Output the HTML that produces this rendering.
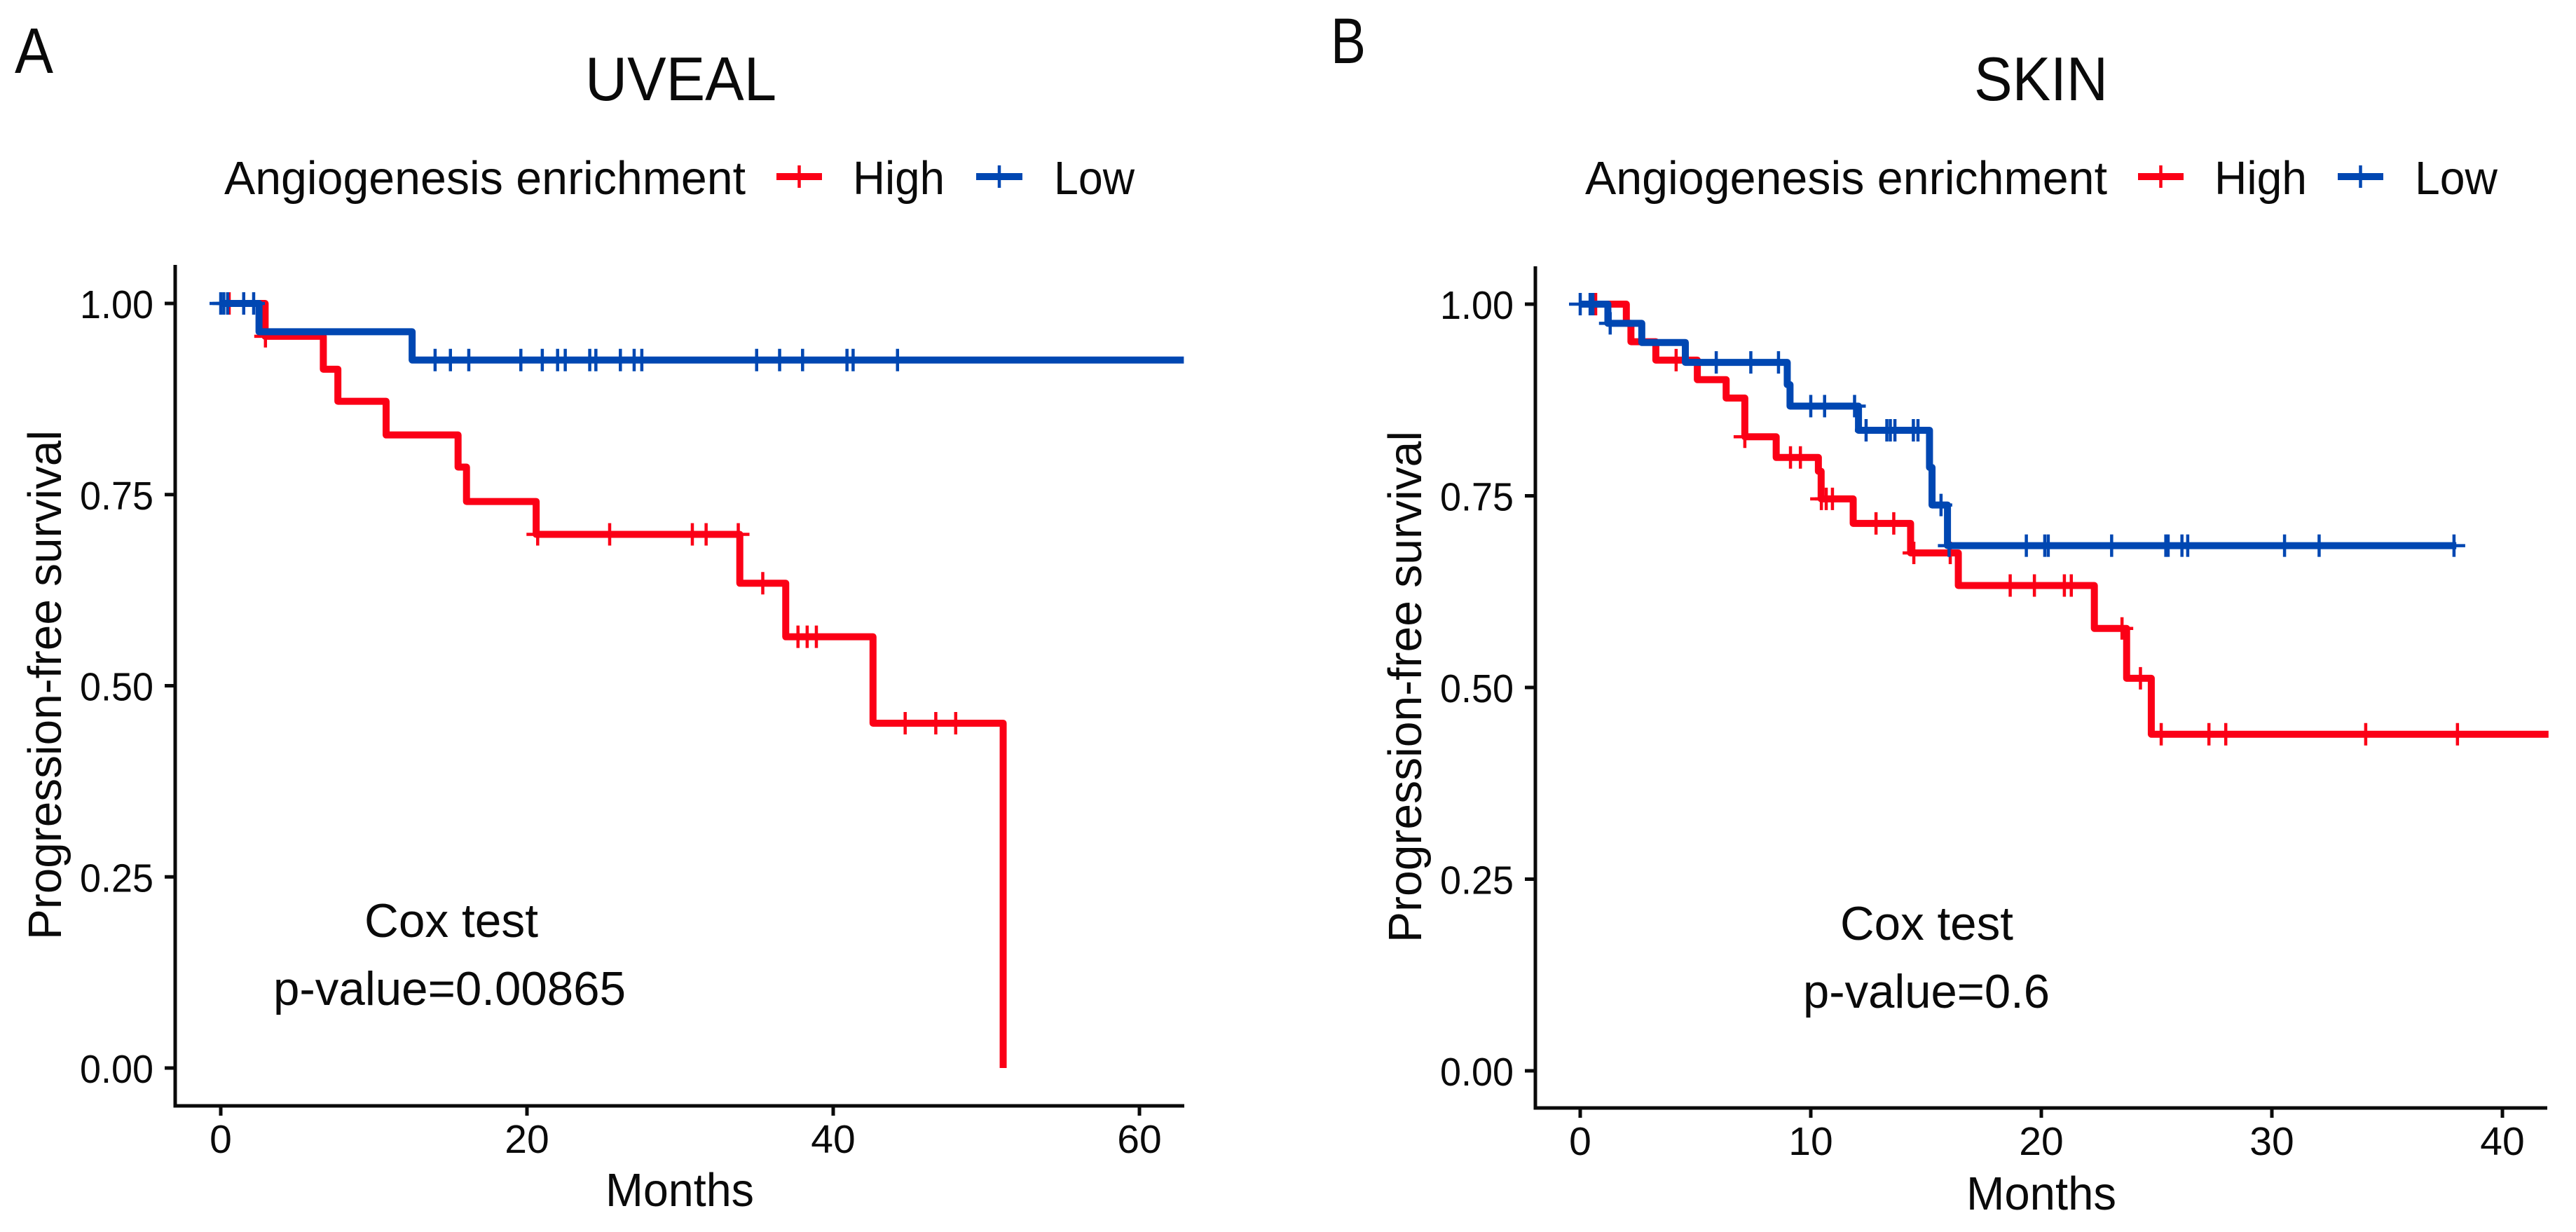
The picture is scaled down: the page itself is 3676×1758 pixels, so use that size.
<!DOCTYPE html>
<html>
<head>
<meta charset="utf-8">
<title>UVEAL and SKIN progression-free survival</title>
<style>
html,body{margin:0;padding:0;background:#fff;width:3676px;height:1758px;overflow:hidden}
svg{display:block}
text{font-family:"Liberation Sans",Arial,sans-serif;fill:#0a0a0a}
</style>
</head>
<body>
<svg id="fig" xmlns="http://www.w3.org/2000/svg" width="3676" height="1758" viewBox="0 0 3676 1758">
  <rect width="3676" height="1758" fill="#fff"/>

  <text x="21" y="104" font-size="92" textLength="55" lengthAdjust="spacingAndGlyphs">A</text>
  <text x="1899" y="90" font-size="92" textLength="50" lengthAdjust="spacingAndGlyphs">B</text>

  <g id="panelA">
    <text x="835" y="143" font-size="88" textLength="273" lengthAdjust="spacingAndGlyphs">UVEAL</text>
    <text x="320" y="277" font-size="67" textLength="744" lengthAdjust="spacingAndGlyphs">Angiogenesis enrichment</text>
    <text x="1217" y="277" font-size="67" textLength="131" lengthAdjust="spacingAndGlyphs">High</text>
    <text x="1504" y="277" font-size="67" textLength="115" lengthAdjust="spacingAndGlyphs">Low</text>
    <text x="864" y="1721" font-size="67" textLength="212" lengthAdjust="spacingAndGlyphs">Months</text>
    <text transform="translate(87 1341) rotate(-90)" font-size="67" textLength="727" lengthAdjust="spacingAndGlyphs">Progression-free survival</text>
    <text x="520" y="1337" font-size="68" textLength="248" lengthAdjust="spacingAndGlyphs">Cox test</text>
    <text x="390" y="1434" font-size="68" textLength="503" lengthAdjust="spacingAndGlyphs">p-value=0.00865</text>
  </g>

  <g id="panelB">
    <text x="2817" y="143" font-size="88" textLength="191" lengthAdjust="spacingAndGlyphs">SKIN</text>
    <text x="2262" y="277" font-size="67" textLength="745" lengthAdjust="spacingAndGlyphs">Angiogenesis enrichment</text>
    <text x="3160" y="277" font-size="67" textLength="132" lengthAdjust="spacingAndGlyphs">High</text>
    <text x="3446" y="277" font-size="67" textLength="118" lengthAdjust="spacingAndGlyphs">Low</text>
    <text x="2806" y="1726" font-size="67" textLength="214" lengthAdjust="spacingAndGlyphs">Months</text>
    <text transform="translate(2028 1345) rotate(-90)" font-size="67" textLength="730" lengthAdjust="spacingAndGlyphs">Progression-free survival</text>
    <text x="2626" y="1341" font-size="68" textLength="247" lengthAdjust="spacingAndGlyphs">Cox test</text>
    <text x="2573" y="1438" font-size="68" textLength="352" lengthAdjust="spacingAndGlyphs">p-value=0.6</text>
  </g>
</svg>
<script>
const survivalTicks = [0, 0.25, 0.5, 0.75, 1];
const survivalTickLabels = ['0.00', '0.25', '0.50', '0.75', '1.00'];

const uvealMonthTicks = [0, 20, 40, 60];
const uvealHighTimes = [0, 2.9, 6.7, 7.65, 10.8, 15.5, 16.05, 20.6, 33.9, 36.9, 42.6, 51.1];
const uvealHighSurvival = [1, 0.957, 0.914, 0.872, 0.828, 0.786, 0.741, 0.698, 0.634, 0.564, 0.451, 0];
const uvealHighCensorTimes = [0.55, 2.92, 20.7, 25.4, 30.8, 31.7, 33.8, 35.4, 37.7, 38.3, 38.9, 44.7, 46.7, 48.0];
const uvealLowTimes = [0, 2.5, 12.5, 62.9];
const uvealLowSurvival = [1, 0.963, 0.926, 0.926];
const uvealLowCensorTimes = [0, 0.2, 0.45, 1.5, 2.15, 14.0, 15.0, 16.2, 19.6, 21.0, 22.0, 22.5, 24.1, 24.5, 26.1, 27.0, 27.5, 35.0, 36.5, 38.0, 40.9, 41.3, 44.2];

const skinMonthTicks = [0, 10, 20, 30, 40];
const skinHighTimes = [0, 2.0, 2.2, 3.28, 5.08, 6.33, 7.14, 8.5, 10.33, 10.45, 11.84, 14.33, 16.4, 22.3, 23.7, 24.77, 42];
const skinHighSurvival = [1, 0.975, 0.951, 0.927, 0.9015, 0.8775, 0.827, 0.8, 0.782, 0.746, 0.714, 0.6755, 0.633, 0.577, 0.512, 0.439, 0.439];
const skinHighCensorTimes = [0.55, 0.67, 4.16, 7.14, 9.12, 9.55, 10.46, 10.67, 10.94, 12.83, 13.6, 14.47, 16.05, 18.65, 19.7, 21.0, 21.3, 23.5, 24.3, 25.2, 27.27, 28.0, 34.07, 38.05];
const skinLowTimes = [0, 1.2, 2.67, 4.56, 8.98, 9.1, 12.07, 15.15, 15.26, 15.93, 38.0];
const skinLowSurvival = [1, 0.975, 0.95, 0.924, 0.895, 0.867, 0.8355, 0.787, 0.738, 0.685, 0.685];
const skinLowCensorTimes = [0, 0.43, 0.55, 1.3, 5.9, 7.4, 8.6, 10.0, 10.6, 11.9, 12.4, 13.3, 13.45, 13.65, 14.45, 14.65, 15.65, 16.0, 19.35, 20.15, 20.3, 23.05, 25.4, 25.5, 26.1, 26.35, 30.55, 32.05, 37.9];

const HIGH_COLOR = '#fb0016';
const LOW_COLOR = '#0047b2';
const SVG_NS = 'http://www.w3.org/2000/svg';

function xUveal(t) { return 315 + t * 21.85; }
function yUveal(s) { return 1524 - s * 1091; }
function xSkin(t) { return 2255 + t * 32.9; }
function ySkin(s) { return 1528 - s * 1094; }

function make(parent, tag, attrs) {
  const el = document.createElementNS(SVG_NS, tag);
  for (const k in attrs) el.setAttribute(k, attrs[k]);
  parent.appendChild(el);
  return el;
}

function survivalAt(times, values, t) {
  let s = values[0];
  for (let i = 0; i < times.length; i++) { if (times[i] <= t) s = values[i]; }
  return s;
}

function drawAxes(parent, xf, yf, x0, x1, yTop, yBottom, monthTicks) {
  const yAxis = make(parent, 'line', {x1: x0, x2: x0, y1: yTop, y2: yBottom + 2.5, stroke: '#0a0a0a', 'stroke-width': 5});
  
  
  const xAxis = make(parent, 'line', {x1: x0 - 2.5, x2: x1, y1: yBottom, y2: yBottom, stroke: '#0a0a0a', 'stroke-width': 5});
  
  
  survivalTicks.forEach(function (v, i) {
    const tick = make(parent, 'line', {x1: x0 - 15, x2: x0, y1: yf(v), y2: yf(v), stroke: '#0a0a0a', 'stroke-width': 5});
    
    
    const label = make(parent, 'text', {x: x0 - 31, y: yf(v) + 21, 'font-size': 57, 'text-anchor': 'end', textLength: 105, lengthAdjust: 'spacingAndGlyphs'});
    
    
    label.textContent = survivalTickLabels[i];
  });
  monthTicks.forEach(function (m) {
    const tick = make(parent, 'line', {x1: xf(m), x2: xf(m), y1: yBottom, y2: yBottom + 14, stroke: '#0a0a0a', 'stroke-width': 5});
    
    
    const label = make(parent, 'text', {x: xf(m), y: yBottom + 67, 'font-size': 57, 'text-anchor': 'middle'});
    
    
    label.textContent = String(m);
  });
}

function drawSeries(parent, name, color, times, values, censors, xf, yf, plusSize) {
  const g = make(parent, 'g', {});
  
  
  let d = 'M' + xf(times[0]) + ' ' + yf(values[0]);
  for (let i = 1; i < times.length; i++) {
    d += 'H' + xf(times[i]) + 'V' + yf(values[i]);
  }
  const line = make(g, 'path', {d: d, fill: 'none', stroke: color, 'stroke-width': 10, 'stroke-linejoin': 'round'});
  
  
  censors.forEach(function (t) {
    const cx = xf(t);
    const cy = yf(survivalAt(times, values, t));
    const mark = make(g, 'path', {
      d: 'M' + (cx - plusSize) + ' ' + cy + 'H' + (cx + plusSize) + 'M' + cx + ' ' + (cy - plusSize) + 'V' + (cy + plusSize),
      fill: 'none', stroke: color, 'stroke-width': 4.5
    });
    
    
  });
}

function drawLegendKey(parent, name, color, x0, x1) {
  const key = make(parent, 'g', {});
  
  
  make(key, 'line', {x1: x0, x2: x1, y1: 252, y2: 252, stroke: color, 'stroke-width': 10});
  make(key, 'line', {x1: (x0 + x1) / 2, x2: (x0 + x1) / 2, y1: 236, y2: 268, stroke: color, 'stroke-width': 4.5});
}

const panelA = document.getElementById('panelA');
drawAxes(panelA, xUveal, yUveal, 250, 1690, 378, 1578, uvealMonthTicks);
drawLegendKey(panelA, 'high', HIGH_COLOR, 1108, 1173);
drawLegendKey(panelA, 'low', LOW_COLOR, 1393, 1459);
drawSeries(panelA, 'high', HIGH_COLOR, uvealHighTimes, uvealHighSurvival, uvealHighCensorTimes, xUveal, yUveal, 16);
drawSeries(panelA, 'low', LOW_COLOR, uvealLowTimes, uvealLowSurvival, uvealLowCensorTimes, xUveal, yUveal, 16);

const panelB = document.getElementById('panelB');
drawAxes(panelB, xSkin, ySkin, 2191, 3635, 380, 1581, skinMonthTicks);
drawLegendKey(panelB, 'high', HIGH_COLOR, 3051, 3116);
drawLegendKey(panelB, 'low', LOW_COLOR, 3336, 3401);
drawSeries(panelB, 'high', HIGH_COLOR, skinHighTimes, skinHighSurvival, skinHighCensorTimes, xSkin, ySkin, 16);
drawSeries(panelB, 'low', LOW_COLOR, skinLowTimes, skinLowSurvival, skinLowCensorTimes, xSkin, ySkin, 16);
</script>
</body>
</html>
